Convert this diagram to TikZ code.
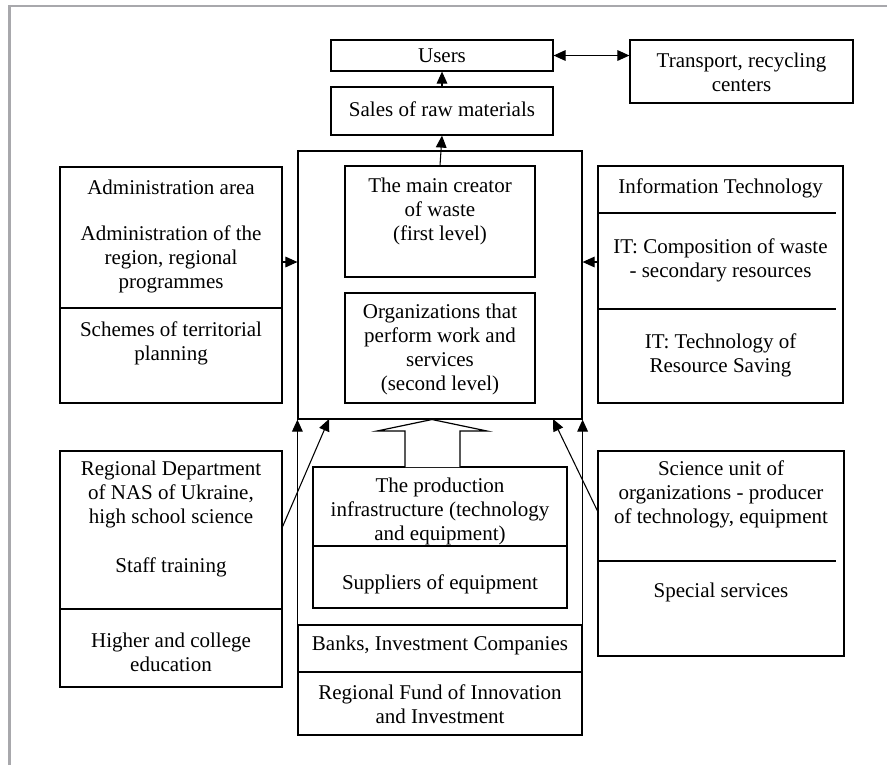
\documentclass[tikz,border=0pt]{standalone}
\usepackage{fontspec}
\setmainfont{Liberation Serif}
\usetikzlibrary{arrows.meta,fit,calc}
\definecolor{framegray}{RGB}{168,168,172}
\begin{document}
\begin{tikzpicture}[x=0.75pt,y=-0.75pt,
  box/.style={draw, line width=0.9pt, inner sep=0pt, fit={#1}},
  txt/.style={align=center, inner sep=0pt, font=\fontsize{15.75pt}{18pt}\selectfont},
  tip/.style={},
  arr/.style={-{Triangle[length=9pt,width=8pt]}, line width=0.8pt},
  darr/.style={{Triangle[length=9pt,width=8pt]}-{Triangle[length=9pt,width=8pt]}, line width=0.8pt},
  divl/.style={line width=0.9pt}]
\useasboundingbox (0,0) rectangle (887,765);
% gray frame
\draw[framegray, line width=1.9pt] (9.5,765) -- (9.5,6) -- (887,6);

% boxes
\node[box={(331,40)(553,71)}] (users) {};
\node[box={(331,87)(553,135)}] (sales) {};
\node[box={(630,40)(853,103)}] (transport) {};
\node[box={(298,151)(582,419)}] (big) {};
\node[box={(345,166)(535,277)}] (creator) {};
\node[box={(345,293)(535,403)}] (org) {};
\node[box={(60,167)(282,403)}] (admin) {};
\node[box={(598,166)(843,403)}] (it) {};
\node[box={(60,451)(282,687)}] (regdept) {};
\node[box={(598,451)(844,656)}] (science) {};
\node[box={(313,467)(567,546)}] (prod) {};
\node[box={(313,546)(567,608)}] (suppliers) {};
\node[box={(298,625)(582,672)}] (banks) {};
\node[box={(298,672)(582,735)}] (fund) {};

% dividers
\coordinate (adiv) at (60,308);
\coordinate (rdiv) at (60,609);
\coordinate (idiv1) at (836,213);
\coordinate (idiv2) at (836,309);
\coordinate (sdiv) at (836,561);
\draw[divl] (admin.west |- adiv) -- (admin.east |- adiv);
\draw[divl] (regdept.west |- rdiv) -- (regdept.east |- rdiv);
\draw[divl] (it.west |- idiv1) -- (idiv1);
\draw[divl] (it.west |- idiv2) -- (idiv2);
\draw[divl] (science.west |- sdiv) -- (sdiv);

% texts
\node[txt] (tusers) at (442,56) {Users};
\node[txt] (tsales) at (442,109) {Sales of raw materials};
\node[txt] (ttransport) at (741.5,72) {Transport, recycling\\centers};
\node[txt] (tcreator) at (440,211.5) {The main creator\\of waste\\(first level)};
\node[txt] (torg) at (440,349) {Organizations that\\perform work and\\services\\(second level)};
\node[txt] (tadmin1) at (171,187) {Administration area};
\node[txt] (tadmin2) at (171,259.5) {Administration of the\\region, regional\\programmes};
\node[txt] (tadmin3) at (171,343.5) {Schemes of territorial\\planning};
\node[txt] (tit1) at (720.5,188) {Information Technology};
\node[txt] (tit2) at (720.5,260) {IT: Composition of waste\\- secondary resources};
\node[txt] (tit3) at (720.5,355.5) {IT: Technology of\\Resource Saving};
\node[txt] (treg1) at (171,494.5) {Regional Department\\of NAS of Ukraine,\\high school science};
\node[txt] (treg2) at (171,567) {Staff training};
\node[txt] (treg3) at (171,652) {Higher and college\\education};
\node[txt] (tprod) at (440,511) {The production\\infrastructure (technology\\and equipment)};
\node[txt] (tsup) at (440,584) {Suppliers of equipment};
\node[txt] (tbanks) at (440,645) {Banks, Investment Companies};
\node[txt] (tfund) at (440,704.5) {Regional Fund of Innovation\\and Investment};
\node[txt] (tsci1) at (721,494.5) {Science unit of\\organizations - producer\\of technology, equipment};
\node[txt] (tsci2) at (721,592) {Special services};

% connectors
\draw[arr] (sales.north) -- (users.south);
\draw[arr] (creator.north) -- (sales.south);
\draw[darr] (users.east) -- (users.east -| transport.west);
\coordinate (ay) at (290,262);
\draw[arr] (admin.east |- ay) -- (big.west |- ay);
\draw[arr] (it.west |- ay) -- (big.east |- ay);
\coordinate (rs) at (282,528);
\coordinate (rt) at (329,419);
\draw[arr] (rs) -- (rt);
\coordinate (ss) at (598,512);
\coordinate (st) at (553,419);
\draw[arr] (ss) -- (st);
\draw[arr] (banks.north west) -- (big.south west);
\draw[arr] (banks.north east) -- (big.south east);

% hollow arrow
\draw[line width=0.9pt, fill=white] (405,467) -- (405,431) -- (377,431) -- (432,419.5) -- (487,431) -- (460,431) -- (460,467);
\end{tikzpicture}
\end{document}
